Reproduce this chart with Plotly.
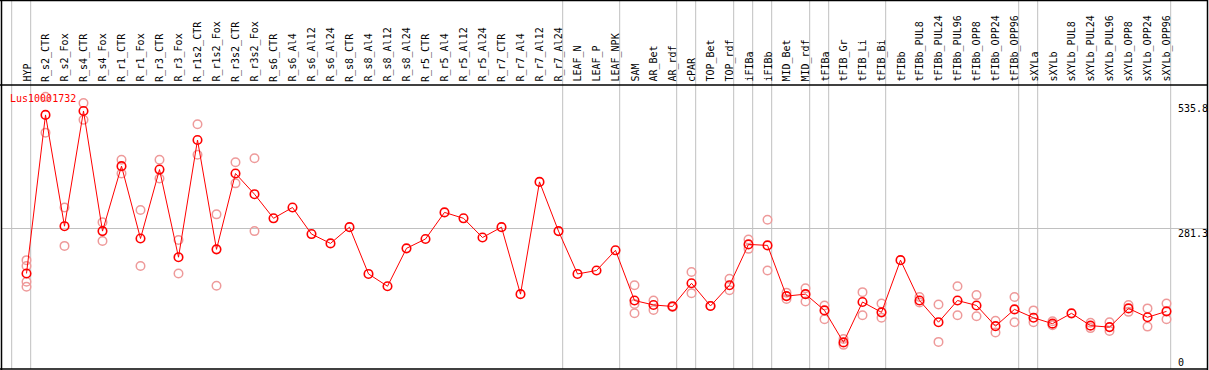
import plotly.graph_objects as go

W, H = 1209, 370

categories = ["HYP", "R_s2_CTR", "R_s2_Fox", "R_s4_CTR", "R_s4_Fox", "R_r1_CTR", "R_r1_Fox",
              "R_r3_CTR", "R_r3_Fox", "R_r1s2_CTR", "R_r1s2_Fox", "R_r3s2_CTR", "R_r3s2_Fox",
              "R_s6_CTR", "R_s6_Al4", "R_s6_Al12", "R_s6_Al24", "R_s8_CTR", "R_s8_Al4",
              "R_s8_Al12", "R_s8_Al24", "R_r5_CTR", "R_r5_Al4", "R_r5_Al12", "R_r5_Al24",
              "R_r7_CTR", "R_r7_Al4", "R_r7_Al12", "R_r7_Al24", "LEAF_N", "LEAF_P", "LEAF_NPK",
              "SAM", "AR_Bet", "AR_rdf", "cPAR", "TOP_Bet", "TOP_rdf", "iFIBa", "iFIBb",
              "MID_Bet", "MID_rdf", "tFIBa", "tFIB_Gr", "tFIB_Li", "tFIB_Bi", "tFIBb",
              "tFIBb_PUL8", "tFIBb_PUL24", "tFIBb_PUL96", "tFIBb_OPP8", "tFIBb_OPP24",
              "tFIBb_OPP96", "sXYLa", "sXYLb", "sXYLb_PUL8", "sXYLb_PUL24", "sXYLb_PUL96",
              "sXYLb_OPP8", "sXYLb_OPP24", "sXYLb_OPP96"]

mean_values = [189, 511, 285, 519, 275, 407, 260, 400, 222, 460, 238, 392, 350,
               301, 323, 269, 250, 283, 188, 163, 240, 259, 313, 301, 262, 283, 147, 375, 275,
               188, 195, 236,
               134, 125, 122, 169, 123, 165, 248, 246, 143, 147, 114, 49, 131, 110, 216,
               134, 90, 134, 124, 82, 116, 99, 87, 108, 83, 80, 118, 100, 112]

replicate_values = [
    [216, 204, 172, 162], [548, 475], [323, 245], [535, 501], [293, 255], [420, 392],
    [318, 204], [420, 382], [257, 189], [492, 430], [309, 164], [415, 372], [423, 275],
    [], [], [], [], [], [], [], [], [], [], [], [], [], [], [], [],
    [], [], [],
    [165, 127, 108], [134, 115], [123, 121], [192, 149], [123], [178, 155], [258, 239],
    [298, 195], [150, 137], [159, 132], [124, 96], [56, 44], [151, 104], [128, 99], [],
    [141, 130], [126, 50], [163, 104], [145, 102], [93, 69], [141, 90], [114, 90],
    [92, 84], [], [89, 78], [90, 72], [125, 111], [118, 81], [128, 96]]

separators_after = [-1, 0, 28, 31, 34, 35, 37, 38, 39, 41, 42, 45, 52, 53, 60]

right_labels = ["535.8", "281.3", "0"]
right_label_values = [535.8, 281.3, 0]
grid_value = 281.3
gene_label = "Lus10001732"

x_idx = list(range(len(categories)))
rep_x, rep_y = [], []
for i, vals in enumerate(replicate_values):
    for v in vals:
        rep_x.append(i)
        rep_y.append(v)

MONO = "DejaVu Sans Mono"

fig = go.Figure()
fig.add_trace(go.Scatter(
    x=rep_x, y=rep_y, mode="markers",
    marker=dict(symbol="circle-open", size=8.5, color="#ee9a9a", line=dict(width=1.5, color="#ee9a9a")),
    hoverinfo="skip", showlegend=False, cliponaxis=False))
fig.add_trace(go.Scatter(
    x=x_idx, y=mean_values, mode="lines+markers",
    line=dict(color="#ff0000", width=1),
    marker=dict(symbol="circle-open", size=8.5, color="#ff0000", line=dict(width=1.6, color="#ff0000")),
    showlegend=False, cliponaxis=False))

x0px, step = 26.5, 19.0
xr = [(1 - x0px) / step, (1208 - x0px) / step]
yr = [(366.5 - 369) * 2.0312, (366.5 - 85) * 2.0312]

shapes = []
# vertical separators (full height)
for k in separators_after:
    xv = k + 0.22
    shapes.append(dict(type="line", xref="x", yref="paper", x0=xv, x1=xv, y0=1 / H, y1=1,
                       line=dict(color="#c0c0c0", width=1), layer="below"))
# borders
blk = dict(color="black", width=1.5)
shapes.append(dict(type="line", xref="paper", yref="paper", x0=0, x1=1208 / W, y0=1 - 0.5 / H, y1=1 - 0.5 / H, line=blk))
shapes.append(dict(type="line", xref="paper", yref="paper", x0=0, x1=1208 / W, y0=1 - 85 / H, y1=1 - 85 / H, line=blk))
shapes.append(dict(type="line", xref="paper", yref="paper", x0=0, x1=1208 / W, y0=1 / H, y1=1 / H, line=blk))
shapes.append(dict(type="line", xref="paper", yref="paper", x0=1.5 / W, x1=1.5 / W, y0=0, y1=1, line=blk))
shapes.append(dict(type="line", xref="paper", yref="paper", x0=1207.5 / W, x1=1207.5 / W, y0=0, y1=1, line=blk))

annotations = []
for i, c in enumerate(categories):
    annotations.append(dict(x=i, xref="x", y=1 - 84 / H, yref="paper", text=c, showarrow=False,
                            textangle=-90, xanchor="center", yanchor="bottom",
                            font=dict(family=MONO, size=10, color="black")))
for t, v in zip(right_labels, right_label_values):
    annotations.append(dict(x=1176 / W, xref="paper", y=v, yref="y", text=t, showarrow=False,
                            xanchor="left", yanchor=("bottom" if v == 0 else "top"),
                            yshift=(-3 if v == 0 else 2),
                            font=dict(family=MONO, size=10, color="black")))
annotations.append(dict(x=8 / W, xref="paper", y=1 - 91 / H, yref="paper", text=gene_label,
                        showarrow=False, xanchor="left", yanchor="top",
                        font=dict(family=MONO, size=10, color="#ff0000")))

fig.update_layout(
    width=W, height=H, margin=dict(l=0, r=0, t=0, b=0),
    paper_bgcolor="white", plot_bgcolor="white",
    xaxis=dict(domain=[1 / W, 1208 / W], range=xr, showgrid=False, zeroline=False,
               showticklabels=False, ticks="", fixedrange=True),
    yaxis=dict(domain=[1 / H, 285 / H], range=yr, tickvals=[grid_value], showgrid=True,
               gridcolor="#c0c0c0", gridwidth=1, zeroline=False, showticklabels=False,
               ticks="", fixedrange=True),
    shapes=shapes, annotations=annotations,
)

fig.write_html("out.html", config={"displayModeBar": False},
               post_script="document.body.style.margin='0';document.body.style.overflow='hidden';")
